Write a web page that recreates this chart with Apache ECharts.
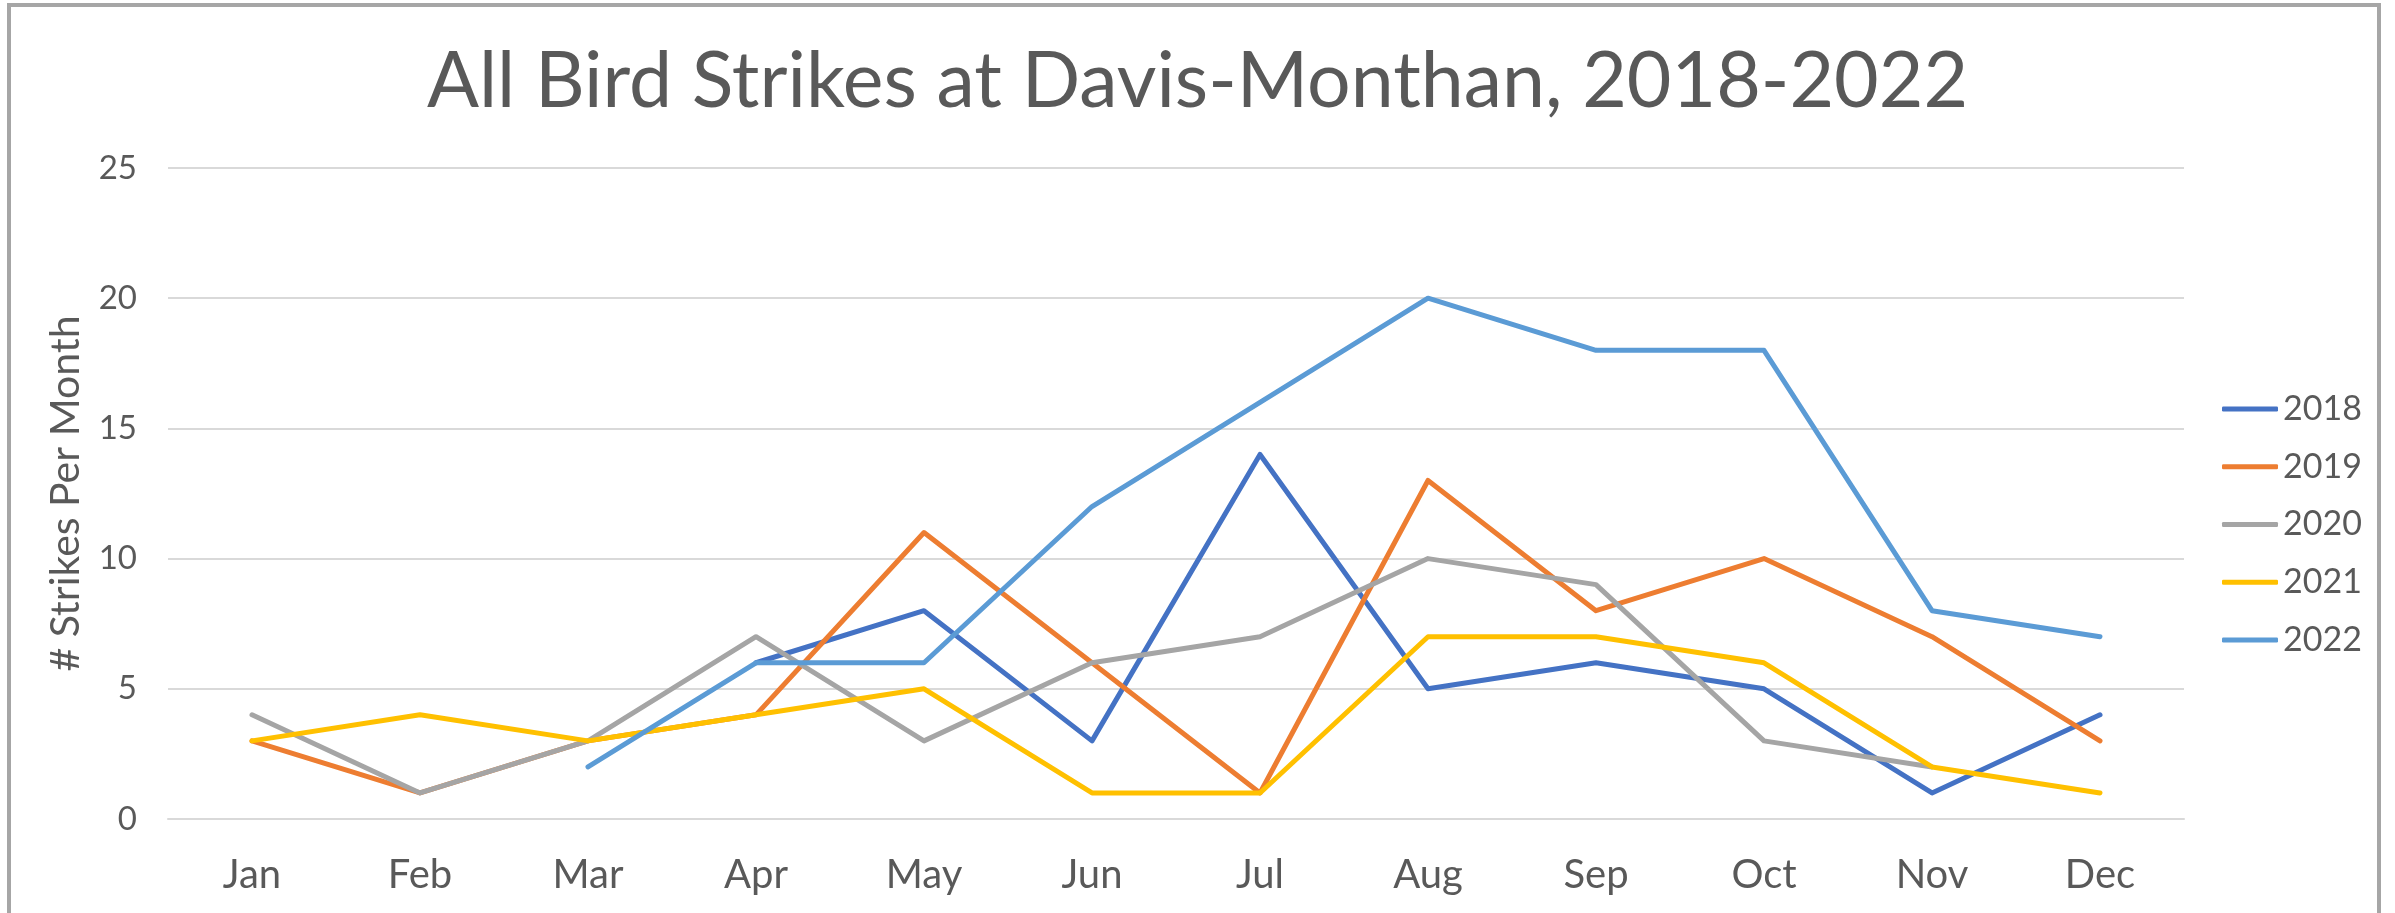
<!DOCTYPE html>
<html>
<head>
<meta charset="utf-8">
<script src="https://cdn.jsdelivr.net/npm/echarts@6/dist/echarts.min.js"></script>
<style>
  html, body { margin: 0; padding: 0; background: #fff; overflow: hidden; }
  #frame {
    position: absolute; left: 7px; top: 3px; width: 2374px; height: 1000px;
    border: 4.5px solid #a6a6a6; box-sizing: border-box;
  }
  #chart { position: absolute; left: 0; top: 0; width: 2395px; height: 913px; }
</style>
</head>
<body>
<div id="frame"></div>
<div id="chart"></div>
<script>
var months = ['Jan', 'Feb', 'Mar', 'Apr', 'May', 'Jun', 'Jul', 'Aug', 'Sep', 'Oct', 'Nov', 'Dec'];
var years = ['2018', '2019', '2020', '2021', '2022'];
var strikes2018 = [null, null, null, 6, 8, 3, 14, 5, 6, 5, 1, 4];
var strikes2019 = [3, 1, 3, 4, 11, 6, 1, 13, 8, 10, 7, 3];
var strikes2020 = [4, 1, 3, 7, 3, 6, 7, 10, 9, 3, 2, null];
var strikes2021 = [3, 4, 3, 4, 5, 1, 1, 7, 7, 6, 2, 1];
var strikes2022 = [null, null, 2, 6, 6, 12, 16, 20, 18, 18, 8, 7];
var yTicks = [0, 5, 10, 15, 20, 25];

var colors = ['#4472C4', '#ED7D31', '#A5A5A5', '#FFC000', '#5B9BD5'];
var allData = [strikes2018, strikes2019, strikes2020, strikes2021, strikes2022];
var font = 'Lato, Carlito, "Noto Sans", sans-serif';

const getOptionChart = () => {
  var series = [];
  for (let i = 0; i < years.length; ++i) {
    series.push({
      name: years[i],
      type: 'line',
      data: allData[i],
      showSymbol: false,
      symbol: 'none',
      connectNulls: false,
      color: colors[i],
      lineStyle: { width: 5, cap: 'round', join: 'round' }
    });
  }
  return {
    animation: false,
    textStyle: { fontFamily: font },
    title: {
      text: 'All Bird Strikes at Davis-Monthan, 2018-2022',
      left: 'center',
      top: 39,
      textStyle: { fontFamily: font, fontSize: 77, fontWeight: 'normal', color: '#595959' }
    },
    legend: {
      orient: 'vertical',
      left: 2222,
      top: 389,
      padding: 0,
      icon: 'roundRect',
      itemWidth: 56,
      itemHeight: 5,
      itemGap: 17.75,
      data: years,
      textStyle: { fontFamily: font, fontSize: 34, lineHeight: 40, color: '#595959' }
    },
    grid: { left: 168, right: 211, top: 168, bottom: 94, containLabel: false },
    xAxis: {
      type: 'category',
      data: months,
      boundaryGap: true,
      axisLine: { lineStyle: { color: '#D9D9D9', width: 2 } },
      axisTick: { show: false },
      axisLabel: { fontFamily: font, fontSize: 40, color: '#595959', margin: 36 }
    },
    yAxis: {
      type: 'value',
      min: yTicks[0],
      max: yTicks[yTicks.length - 1],
      interval: 5,
      name: '# Strikes Per Month',
      nameLocation: 'middle',
      nameRotate: 90,
      nameGap: 82,
      nameTextStyle: { fontFamily: font, fontSize: 41, color: '#595959' },
      axisLine: { show: false },
      axisTick: { show: false },
      axisLabel: { fontFamily: font, fontSize: 33, color: '#595959', margin: 31 },
      splitLine: { lineStyle: { color: '#D9D9D9', width: 2 } }
    },
    series: series
  };
};

const initCharts = () => {
  const chart = echarts.init(document.getElementById('chart'), null, { renderer: 'canvas' });
  chart.setOption(getOptionChart());
};

window.addEventListener('load', () => {
  initCharts();
});
</script>
</body>
</html>
